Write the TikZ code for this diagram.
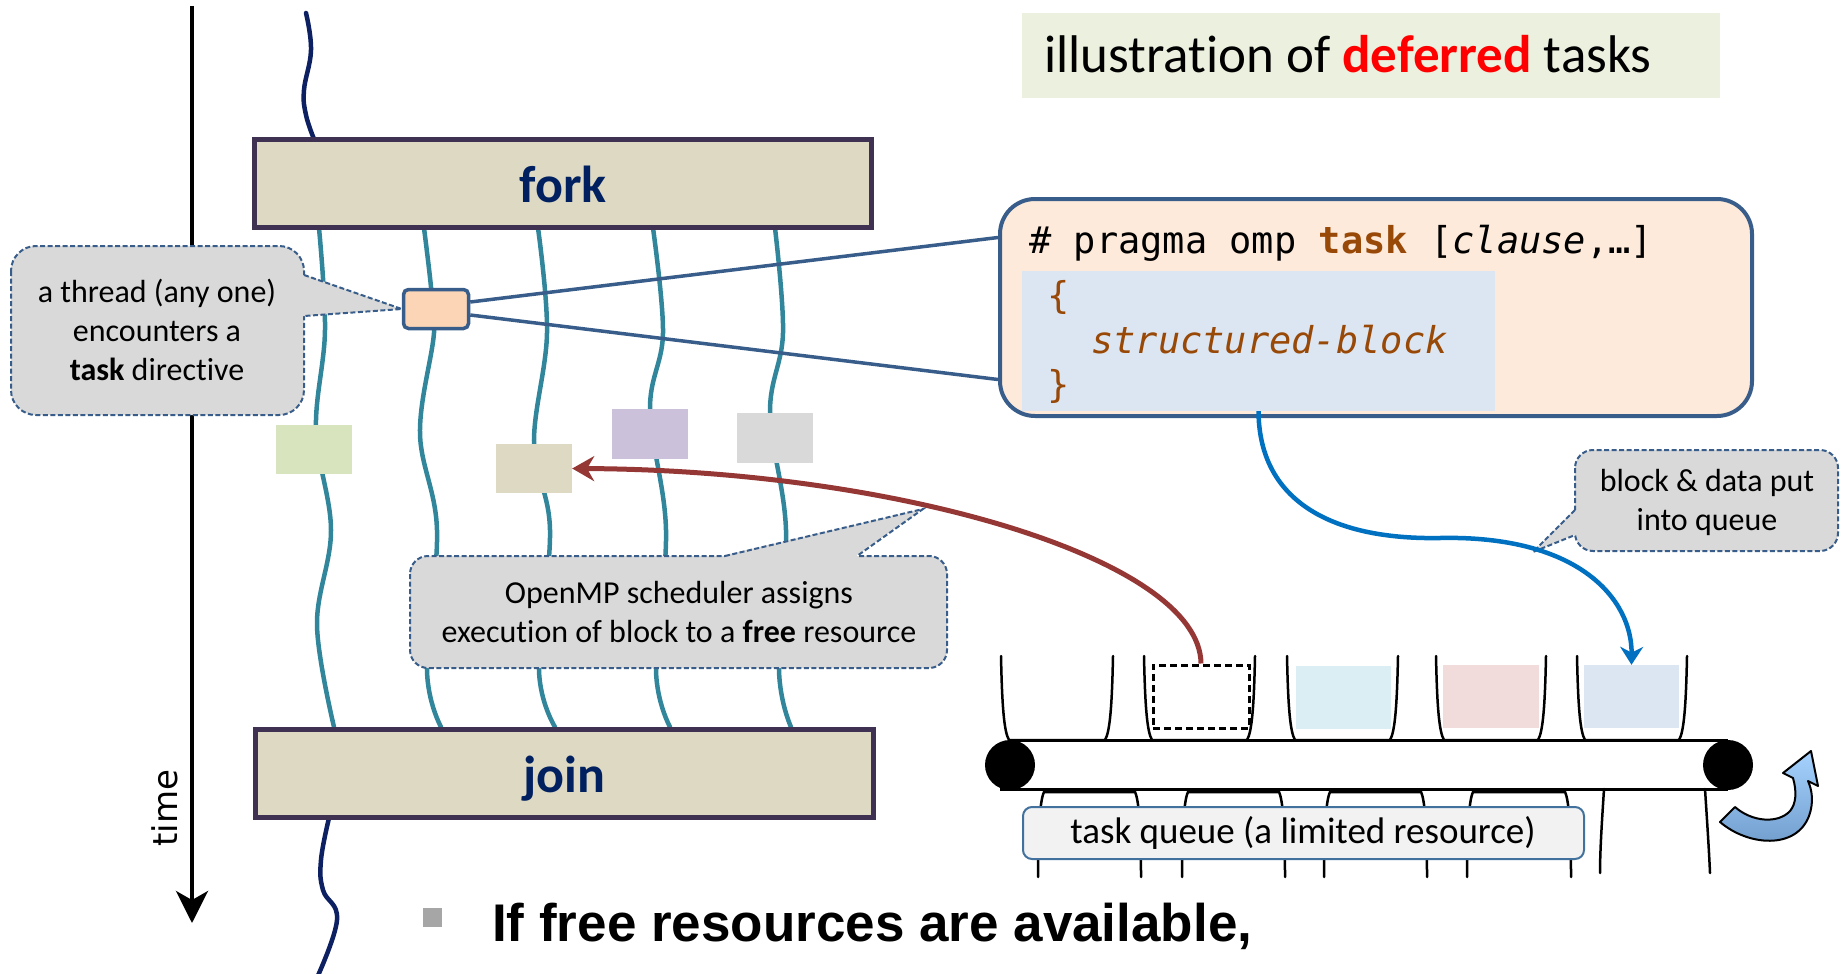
\documentclass[tikz,border=0pt]{standalone}
\usepackage{fontspec}
\setmainfont{Carlito}[Ligatures=NoCommon]
\newfontfamily\codefont{DejaVu Sans Mono}
\newfontfamily\axisfont{DejaVu Sans}
\newfontfamily\slidefont{Liberation Sans}
\usetikzlibrary{arrows.meta,calc}

\definecolor{threadnavy}{HTML}{0C2062}
\definecolor{threadteal}{HTML}{31869B}
\definecolor{barrierfill}{HTML}{DDD9C3}
\definecolor{barrierline}{HTML}{3F3151}
\definecolor{labelnavy}{HTML}{002060}
\definecolor{taskfill}{HTML}{FBD5B5}
\definecolor{edgeblue}{HTML}{385D8A}
\definecolor{codefill}{HTML}{FDEADA}
\definecolor{innerfill}{HTML}{DCE6F2}
\definecolor{codebrown}{HTML}{984807}
\definecolor{titlefill}{HTML}{EBF1DE}
\definecolor{calloutgray}{HTML}{D9D9D9}
\definecolor{greenblk}{HTML}{D7E4BD}
\definecolor{tanblk}{HTML}{DDD9C3}
\definecolor{purpleblk}{HTML}{CCC1DA}
\definecolor{grayblk}{HTML}{D9D9D9}
\definecolor{cyanslot}{HTML}{DBEEF4}
\definecolor{pinkslot}{HTML}{F2DCDB}
\definecolor{blueslot}{HTML}{DCE6F2}
\definecolor{arrowred}{HTML}{953735}
\definecolor{arrowblue}{HTML}{0070C0}
\definecolor{queuefill}{HTML}{F2F2F2}
\definecolor{queueline}{HTML}{41719C}
\definecolor{bulletgray}{HTML}{A6A6A6}
\definecolor{curvdark}{HTML}{6F9BCB}
\definecolor{curvlight}{HTML}{A6D2FF}

\begin{document}
\begin{tikzpicture}[x=1pt,y=-1pt,
  thread/.style={draw=threadteal,line width=4.5pt,line cap=round},
  mainthread/.style={draw=threadnavy,line width=4.5pt,line cap=round},
  barrier/.style={draw=barrierline,fill=barrierfill,line width=5.5pt,inner sep=0pt},
  barrierlabel/.style={font=\bfseries\fontsize{52}{60}\selectfont,text=labelnavy,anchor=base,inner sep=0pt},
  blk/.style={inner sep=0pt,draw=none},
  bubble/.style={fill=calloutgray},
  bubbleedge/.style={draw=edgeblue,line width=2pt,dash pattern=on 5pt off 2.5pt},
  bubbletext/.style={font=\fontsize{32}{39}\selectfont,align=center,anchor=base,inner sep=0pt},
  bucket/.style={draw=black,line width=2.5pt,line cap=round},
  codeline/.style={font=\codefont\fontsize{37}{44}\selectfont,anchor=base west,inner sep=0pt},
  redarrow/.style={draw=arrowred,line width=5pt,-{Stealth[length=22pt,width=25pt]}},
  bluearrow/.style={draw=arrowblue,line width=4.5pt,-{Stealth[length=18pt,width=23pt]}},
  zoomline/.style={draw=edgeblue,line width=3.5pt}
]
\useasboundingbox (0,0) rectangle (1844,974);
\clip (0,0) rectangle (1844,974);

% title
\node[blk,fill=titlefill,minimum width=698pt,minimum height=85pt] (titlebox) at (1371,55.5) {};
\node[anchor=base west,inner sep=0pt,font=\fontsize{53}{60}\selectfont] (title) at (1044,73)
  {illustration of {\bfseries\color{red}deferred} tasks};

% time axis
\draw[line width=4pt,-{Stealth[length=32pt,width=32pt,inset=9pt]}] (192,6) coordinate (t0) -- (192,923) coordinate (t1);
\node[rotate=90,anchor=base,inner sep=0pt,font=\axisfont\fontsize{34}{40}\selectfont] (timelabel) at (177,808) {time};

% master thread before and after the parallel region
\draw[mainthread] plot[smooth,tension=0.7] coordinates {(306,13) (311,50) (304,90) (306,115) (314,139)};
\draw[mainthread] plot[smooth,tension=0.7] coordinates {(329,818) (321,860) (323,890) (337,920) (316,980)};

% team threads
\draw[thread] plot[smooth,tension=0.6] coordinates {(319,228) (325,330) (316,430) (331,530) (317,625) (334,727)};
\draw[thread] plot[smooth,tension=0.6] coordinates {(424,228) (431,287) (434,333) (420,433) (437,530) (427,670) (441,727)};
\draw[thread] plot[smooth,tension=0.6] coordinates {(538,228) (547,333) (534,443) (550,530) (539,670) (555,727)};
\draw[thread] plot[smooth,tension=0.6] coordinates {(653,228) (663,333) (650,410) (666,530) (656,670) (670,727)};
\draw[thread] plot[smooth,tension=0.6] coordinates {(775,228) (783,333) (770,413) (786,530) (779,670) (791,727)};

% fork / join barriers
\node[barrier,minimum width=617pt,minimum height=88pt] (fork) at (563,183.5) {};
\node[barrierlabel] (forklabel) at (563,202) {fork};
\node[barrier,minimum width=618pt,minimum height=88pt] (join) at (564.5,773.5) {};
\node[barrierlabel] (joinlabel) at (564,792) {join};

% tasks being executed
\node[blk,fill=greenblk,minimum width=76pt,minimum height=49pt] (greenblk) at (314,449.5) {};
\node[blk,fill=tanblk,minimum width=76pt,minimum height=49pt] (tanblk) at (534,468.5) {};
\node[blk,fill=purpleblk,minimum width=76pt,minimum height=50pt] (purpleblk) at (650,434) {};
\node[blk,fill=grayblk,minimum width=76pt,minimum height=50pt] (grayblk) at (775,438) {};

% task directive and its code
\node[draw=edgeblue,fill=taskfill,line width=3.5pt,rounded corners=5pt,minimum width=65pt,minimum height=39pt,inner sep=0pt] (task) at (436,309) {};
\node[draw=edgeblue,fill=codefill,line width=4pt,rounded corners=35pt,minimum width=752pt,minimum height=217pt,inner sep=0pt] (code) at (1376,307.5) {};
\node[blk,fill=innerfill,minimum width=473pt,minimum height=140pt] (inner) at (1258.5,341) {};
\node[codeline] (pragma) at (1029,253) {\# pragma omp {\bfseries\color{codebrown}task} [{\itshape clause},…]};
\node[codeline,text=codebrown] (lbrace) at (1047,308) {\{};
\node[codeline,text=codebrown,font=\codefont\itshape\fontsize{37}{44}\selectfont] (sblock) at (1091,353) {structured-block};
\node[codeline,text=codebrown] (rbrace) at (1047,397) {\}};

\draw[zoomline] ($(task.east)+(0,-7)$) -- ($(code.west)+(0,-70)$);
\draw[zoomline] ($(task.east)+(0,6)$) -- ($(code.west)+(0,72)$);

% callout: a thread encounters a task directive
\fill[bubble,rounded corners=25pt] (11,246) rectangle (304,415);
\draw[bubbleedge,rounded corners=25pt] (11,246) rectangle (304,415);
\fill[bubble] (299,275) -- (305,275) -- (task.west) -- (305,316) -- (299,316) -- cycle;
\draw[bubbleedge] (304,275) -- (task.west) -- (304,316);
\node[bubbletext] (encounter) at (157,380) {a thread (any one)\\encounters a\\\textbf{task} directive};

% conveyor belt: returning buckets underneath
\foreach \a/\b in {1038/1141,1182/1285,1324/1427,1467/1571}
  \draw[bucket] (\a,877) .. controls (\a,830) and (\a+2,800) .. (\a+6,792) -- (\b-6,792) .. controls (\b-2,800) and (\b,830) .. (\b,877);
\draw[bucket] (1604,789) .. controls (1602,820) and (1600,850) .. (1600,873);
\draw[bucket] (1705,789) .. controls (1707,820) and (1709,850) .. (1710,873);

% belt and rollers
\draw[line width=3pt] (1010,740) -- (1728,740);
\draw[line width=3pt] (1000,789) -- (1728,789);
\fill (1010,765) circle[radius=25pt] node (rollerL) {};
\fill (1728,765) circle[radius=25pt] node (rollerR) {};

% buckets on top
\foreach \a/\b in {1001/1113,1144/1255,1287/1398,1436/1546,1577/1687}
  \draw[bucket] (\a,656) .. controls (\a+1,705) and (\a+3,732) .. (\a+8,740) -- (\b-8,740) .. controls (\b-3,732) and (\b-1,705) .. (\b,656);

\node[draw=black,line width=3pt,dash pattern=on 7pt off 4pt,minimum width=96pt,minimum height=63pt,inner sep=0pt] (slot2) at (1201,696.5) {};
\node[blk,fill=cyanslot,minimum width=95pt,minimum height=63pt] (slot3) at (1343.5,697.5) {};
\node[blk,fill=pinkslot,minimum width=96pt,minimum height=63pt] (slot4) at (1491,696.5) {};
\node[blk,fill=blueslot,minimum width=95pt,minimum height=63pt] (slot5) at (1631.5,696.5) {};

% queue label
\node[draw=queueline,fill=queuefill,line width=2pt,rounded corners=9pt,minimum width=561pt,minimum height=52pt,inner sep=0pt] (queuebox) at (1303.5,833) {};
\node[anchor=base,inner sep=0pt,font=\fontsize{37}{44}\selectfont] (queuelabel) at (1303,843) {task queue (a limited resource)};

% callout: scheduler
\fill[bubble,rounded corners=18pt] (410,556) rectangle (947,668);
\draw[bubbleedge,rounded corners=18pt] (410,556) rectangle (947,668);
\coordinate (schedtip) at (923,509);
\fill[bubble] (725,561) -- (725,555) -- (schedtip) -- (857,555) -- (857,561) -- cycle;
\draw[bubbleedge] (725,556) -- (schedtip) -- (857,556);
\node[bubbletext] (sched) at (679,642) {OpenMP scheduler assigns\\execution of block to a \textbf{free} resource};

% callout: put into queue
\fill[bubble,rounded corners=18pt] (1575,450) rectangle (1838,551);
\draw[bubbleedge,rounded corners=18pt] (1575,450) rectangle (1838,551);
\coordinate (queuetip) at (1533,552);
\fill[bubble] (1580,510) -- (1574,510) -- (queuetip) -- (1574,535) -- (1580,535) -- cycle;
\draw[bubbleedge] (1575,510) -- (queuetip) -- (1575,535);
\node[bubbletext] (putq) at (1707,530) {block \& data put\\into queue};

% flows
\draw[redarrow] (slot2.north) .. controls (1200,560) and (900,470) .. (tanblk.east);
\draw[bluearrow] (inner.south) .. controls (1259,500) and (1330,540) .. (1440,538)
  .. controls (1580,535) and (1632,600) .. (slot5.north);

% belt rotation
\shadedraw[bottom color=curvdark,top color=curvlight,draw=black,line width=2pt,line join=round]
  (1720,822) .. controls (1748,846) and (1796,850) .. (1809,816)
  .. controls (1814,802) and (1812,790) .. (1808,781)
  -- (1818,786) -- (1811,751) -- (1783,773) -- (1793,778)
  .. controls (1797,792) and (1796,804) .. (1790,811)
  .. controls (1778,824) and (1752,822) .. (1735,807) -- cycle;

% bullet line
\node[blk,fill=bulletgray,minimum size=19pt] (bullet) at (432.5,917.5) {};
\node[anchor=base west,inner sep=0pt,font=\slidefont\bfseries\fontsize{53}{60}\selectfont] (bullettext) at (492,941) {If free resources are available,};
\end{tikzpicture}
\end{document}
